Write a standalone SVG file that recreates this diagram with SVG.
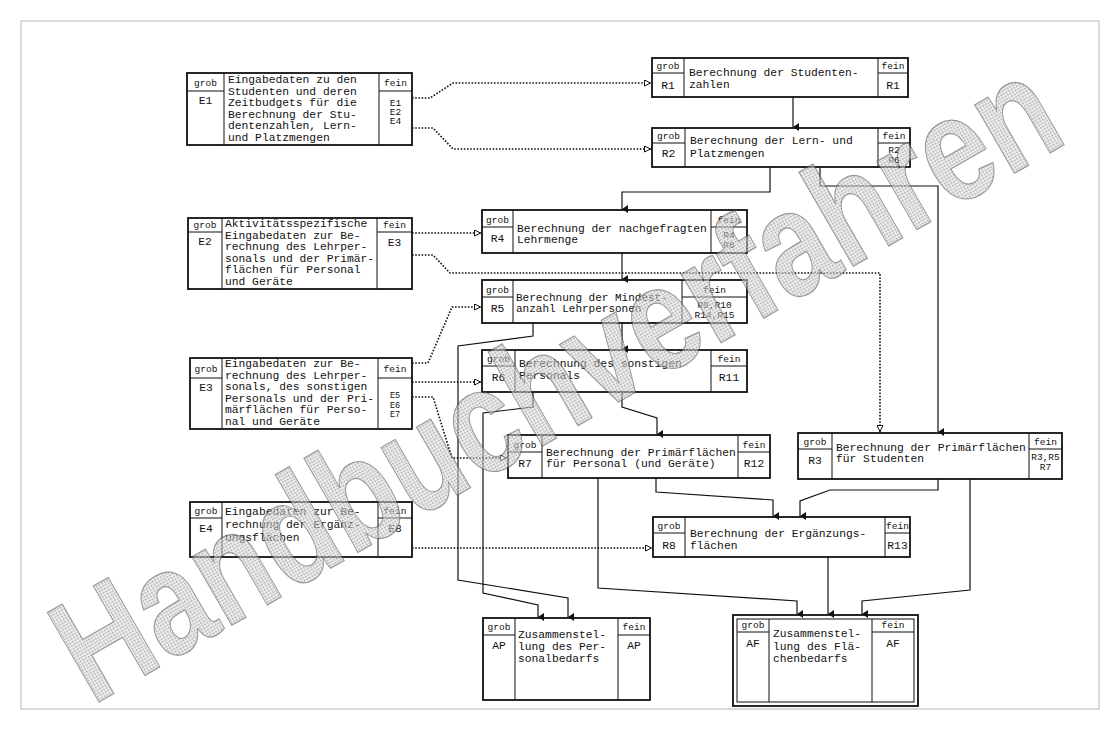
<svg xmlns="http://www.w3.org/2000/svg" width="1120" height="729" viewBox="0 0 1120 729">
<style>
.bx{fill:none;stroke:#111;stroke-width:1.8}
.ln{stroke:#111;stroke-width:1}
.t{font-family:"Liberation Mono","DejaVu Sans Mono",monospace;font-size:11.3px;fill:#111}
.s{font-size:9.5px}
.xs{font-size:8.5px}
.m{text-anchor:middle}
.c{stroke:#111;stroke-width:1.2;fill:none;marker-end:url(#sa)}
.d{stroke:#111;stroke-width:1.6;fill:none;stroke-dasharray:1.6 1.6;marker-end:url(#oa)}
</style>
<defs>
<marker id="sa" viewBox="0 0 8 6" refX="4" refY="6" markerWidth="8" markerHeight="6" markerUnits="userSpaceOnUse" orient="auto-start-reverse">
<path d="M0,0 L8,0 L4,6 z" fill="#111"/>
</marker>
<marker id="oa" viewBox="0 0 7 7" refX="7" refY="3.5" markerWidth="7" markerHeight="7" markerUnits="userSpaceOnUse" orient="auto">
<path d="M0.5,0.5 L6.5,3.5 L0.5,6.5 z" fill="#fff" stroke="#111" stroke-width="1"/>
</marker>
<pattern id="ht" width="3" height="3" patternUnits="userSpaceOnUse">
<rect width="3" height="3" fill="#e4e4e4"/><rect width="1.5" height="1.5" fill="#6a6a6a"/>
</pattern>
</defs>
<rect x="0" y="0" width="1120" height="729" fill="#fff"/>
<rect x="21" y="21" width="1078" height="688" fill="none" stroke="#b5b5b5" stroke-width="1"/>

<g id="connectors">
<path class="c" d="M793,97 V127"/>
<path class="c" d="M770,167 V192 H622 V209"/>
<path class="c" d="M820,167 V186 H938 V432"/>
<path class="c" d="M622,253 V279"/>
<path class="c" d="M622,323 V349"/>
<path class="c" d="M533,323 V336 L458,346 V580 L568,598 V617"/>
<path class="c" d="M533,392 V407 L483,413 V593 L538,605 V617"/>
<path class="c" d="M622,392 V407 L657,418 V434"/>
<path class="c" d="M656,478 V492 L773,500 V516"/>
<path class="c" d="M598,478 V588 L797,601 V614"/>
<path class="c" d="M938,479 V490 H830 L800,501 V516"/>
<path class="c" d="M970,479 V590 L862,601 V614"/>
<path class="c" d="M828,557 V614"/>
<path class="d" d="M412,98 H430 L453,83 H651"/>
<path class="d" d="M412,128 H433 L453,149 H651"/>
<path class="d" d="M412,233 H481"/>
<path class="d" d="M412,255 H433 L450,273 H880 V432"/>
<path class="d" d="M412,363 H428 L452,307 H481"/>
<path class="d" d="M412,382 H481"/>
<path class="d" d="M412,397 H433 L452,458 H507"/>
<path class="d" d="M412,548 H652"/>
</g>

<g id="E1">
<rect class="bx" x="187" y="73" width="225" height="72"/>
<line class="ln" x1="224" y1="73" x2="224" y2="145"/><line class="ln" x1="379" y1="73" x2="379" y2="145"/>
<line class="ln" x1="187" y1="91" x2="224" y2="91"/><line class="ln" x1="379" y1="91" x2="412" y2="91"/>
<text class="t s m" x="205.5" y="86">grob</text><text class="t m" x="205.5" y="104">E1</text>
<text class="t s m" x="395.5" y="86">fein</text>
<text class="t s m" x="395.5" y="106">E1</text><text class="t s m" x="395.5" y="115">E2</text><text class="t s m" x="395.5" y="124">E4</text>
<text class="t" x="228" y="83">Eingabedaten zu den</text>
<text class="t" x="228" y="95">Studenten und deren</text>
<text class="t" x="228" y="106">Zeitbudgets für die</text>
<text class="t" x="228" y="118">Berechnung der Stu-</text>
<text class="t" x="228" y="129">dentenzahlen, Lern-</text>
<text class="t" x="228" y="141">und Platzmengen</text>
</g>

<g id="E2">
<rect class="bx" x="188" y="218" width="224" height="71"/>
<line class="ln" x1="222" y1="218" x2="222" y2="289"/><line class="ln" x1="377" y1="218" x2="377" y2="289"/>
<line class="ln" x1="188" y1="232" x2="222" y2="232"/><line class="ln" x1="377" y1="232" x2="412" y2="232"/>
<text class="t s m" x="205" y="228">grob</text><text class="t m" x="205" y="245">E2</text>
<text class="t s m" x="394.5" y="228">fein</text><text class="t m" x="394.5" y="246">E3</text>
<text class="t" x="225" y="227">Aktivitätsspezifische</text>
<text class="t" x="225" y="238.5">Eingabedaten zur Be-</text>
<text class="t" x="225" y="250">rechnung des Lehrper-</text>
<text class="t" x="225" y="261.5">sonals und der Primär-</text>
<text class="t" x="225" y="273">flächen für Personal</text>
<text class="t" x="225" y="284.5">und Geräte</text>
</g>

<g id="E3">
<rect class="bx" x="190" y="358" width="222" height="71"/>
<line class="ln" x1="222" y1="358" x2="222" y2="429"/><line class="ln" x1="378" y1="358" x2="378" y2="429"/>
<line class="ln" x1="190" y1="378" x2="222" y2="378"/><line class="ln" x1="378" y1="378" x2="412" y2="378"/>
<text class="t s m" x="206" y="372">grob</text><text class="t m" x="206" y="391">E3</text>
<text class="t s m" x="395" y="372">fein</text>
<text class="t xs m" x="395" y="398">E5</text><text class="t xs m" x="395" y="407.5">E6</text><text class="t xs m" x="395" y="417">E7</text>
<text class="t" x="225" y="367">Eingabedaten zur Be-</text>
<text class="t" x="225" y="378.5">rechnung des Lehrper-</text>
<text class="t" x="225" y="390">sonals, des sonstigen</text>
<text class="t" x="225" y="401.5">Personals und der Pri-</text>
<text class="t" x="225" y="413">märflächen für Perso-</text>
<text class="t" x="225" y="424.5">nal und Geräte</text>
</g>

<g id="E4">
<rect class="bx" x="190" y="502" width="222" height="55"/>
<line class="ln" x1="222" y1="502" x2="222" y2="557"/><line class="ln" x1="378" y1="502" x2="378" y2="557"/>
<line class="ln" x1="190" y1="518" x2="222" y2="518"/><line class="ln" x1="378" y1="518" x2="412" y2="518"/>
<text class="t s m" x="206" y="514">grob</text><text class="t m" x="206" y="532">E4</text>
<text class="t s m" x="395" y="514">fein</text><text class="t m" x="395" y="532">E8</text>
<text class="t" x="225" y="515">Eingabedaten zur Be-</text>
<text class="t" x="225" y="528">rechnung der Ergänz-</text>
<text class="t" x="225" y="541">ungsflächen</text>
</g>

<g id="R1">
<rect class="bx" x="652" y="58" width="256" height="39"/>
<line class="ln" x1="684" y1="58" x2="684" y2="97"/><line class="ln" x1="878" y1="58" x2="878" y2="97"/>
<line class="ln" x1="652" y1="73" x2="684" y2="73"/><line class="ln" x1="878" y1="73" x2="908" y2="73"/>
<text class="t s m" x="668" y="69">grob</text><text class="t m" x="668" y="89">R1</text>
<text class="t s m" x="893" y="69">fein</text><text class="t m" x="893" y="89">R1</text>
<text class="t" x="689" y="76">Berechnung der Studenten-</text>
<text class="t" x="689" y="88">zahlen</text>
</g>

<g id="R2">
<rect class="bx" x="652" y="128" width="258" height="39"/>
<line class="ln" x1="685" y1="128" x2="685" y2="167"/><line class="ln" x1="878" y1="128" x2="878" y2="167"/>
<line class="ln" x1="652" y1="143" x2="685" y2="143"/><line class="ln" x1="878" y1="143" x2="910" y2="143"/>
<text class="t s m" x="668.5" y="139">grob</text><text class="t m" x="668.5" y="157">R2</text>
<text class="t s m" x="894" y="139">fein</text>
<text class="t s m" x="894" y="153">R2</text><text class="t s m" x="894" y="163">R6</text>
<text class="t" x="690" y="144">Berechnung der Lern- und</text>
<text class="t" x="690" y="157">Platzmengen</text>
</g>

<g id="R4">
<rect class="bx" x="482" y="210" width="265" height="43"/>
<line class="ln" x1="513" y1="210" x2="513" y2="253"/><line class="ln" x1="711" y1="210" x2="711" y2="253"/>
<line class="ln" x1="482" y1="227" x2="513" y2="227"/><line class="ln" x1="711" y1="227" x2="747" y2="227"/>
<text class="t s m" x="497.5" y="223">grob</text><text class="t m" x="497.5" y="242">R4</text>
<text class="t s m" x="729" y="223">fein</text>
<text class="t s m" x="729" y="238">R4</text><text class="t s m" x="729" y="248">R8</text>
<text class="t" x="517" y="232">Berechnung der nachgefragten</text>
<text class="t" x="517" y="243">Lehrmenge</text>
</g>

<g id="R5">
<rect class="bx" x="482" y="280" width="265" height="43"/>
<line class="ln" x1="513" y1="280" x2="513" y2="323"/><line class="ln" x1="682" y1="280" x2="682" y2="323"/>
<line class="ln" x1="482" y1="297" x2="513" y2="297"/><line class="ln" x1="682" y1="297" x2="747" y2="297"/>
<text class="t s m" x="497.5" y="293">grob</text><text class="t m" x="497.5" y="312">R5</text>
<text class="t s m" x="714.5" y="293">fein</text>
<text class="t s m" x="714.5" y="308">R9,R10</text><text class="t s m" x="714.5" y="318">R14,R15</text>
<text class="t" x="516" y="301" style="font-size:11px">Berechnung der Mindest-</text>
<text class="t" x="516" y="312" style="font-size:11px">anzahl Lehrpersonen</text>
</g>

<g id="R6">
<rect class="bx" x="482" y="350" width="265" height="42"/>
<line class="ln" x1="515" y1="350" x2="515" y2="392"/><line class="ln" x1="711" y1="350" x2="711" y2="392"/>
<line class="ln" x1="482" y1="366" x2="515" y2="366"/><line class="ln" x1="711" y1="366" x2="747" y2="366"/>
<text class="t s m" x="498.5" y="362">grob</text><text class="t m" x="498.5" y="381">R6</text>
<text class="t s m" x="729" y="362">fein</text><text class="t m" x="729" y="381">R11</text>
<text class="t" x="519" y="367">Berechnung des sonstigen</text>
<text class="t" x="519" y="379">Personals</text>
</g>

<g id="R7">
<rect class="bx" x="508" y="435" width="262" height="43"/>
<line class="ln" x1="542" y1="435" x2="542" y2="478"/><line class="ln" x1="738" y1="435" x2="738" y2="478"/>
<line class="ln" x1="508" y1="452" x2="542" y2="452"/><line class="ln" x1="738" y1="452" x2="770" y2="452"/>
<text class="t s m" x="525" y="448">grob</text><text class="t m" x="525" y="467">R7</text>
<text class="t s m" x="754" y="448">fein</text><text class="t m" x="754" y="467">R12</text>
<text class="t" x="546" y="456">Berechnung der Primärflächen</text>
<text class="t" x="546" y="467">für Personal (und Geräte)</text>
</g>

<g id="R3">
<rect class="bx" x="798" y="433" width="264" height="46"/>
<line class="ln" x1="832" y1="433" x2="832" y2="479"/><line class="ln" x1="1029" y1="433" x2="1029" y2="479"/>
<line class="ln" x1="798" y1="449" x2="832" y2="449"/><line class="ln" x1="1029" y1="449" x2="1062" y2="449"/>
<text class="t s m" x="815" y="445">grob</text><text class="t m" x="815" y="464">R3</text>
<text class="t s m" x="1045.5" y="445">fein</text>
<text class="t s m" x="1045.5" y="460">R3,R5</text><text class="t s m" x="1045.5" y="470">R7</text>
<text class="t" x="836" y="451">Berechnung der Primärflächen</text>
<text class="t" x="836" y="462">für Studenten</text>
</g>

<g id="R8">
<rect class="bx" x="653" y="517" width="257" height="40"/>
<line class="ln" x1="685" y1="517" x2="685" y2="557"/><line class="ln" x1="885" y1="517" x2="885" y2="557"/>
<line class="ln" x1="653" y1="533" x2="685" y2="533"/><line class="ln" x1="885" y1="533" x2="910" y2="533"/>
<text class="t s m" x="669" y="529">grob</text><text class="t m" x="669" y="549">R8</text>
<text class="t s m" x="897.5" y="529">fein</text><text class="t m" x="897.5" y="549">R13</text>
<text class="t" x="690" y="537">Berechnung der Ergänzungs-</text>
<text class="t" x="690" y="549">flächen</text>
</g>

<g id="AP">
<rect class="bx" x="483" y="618" width="167" height="82"/>
<line class="ln" x1="515" y1="618" x2="515" y2="700"/><line class="ln" x1="618" y1="618" x2="618" y2="700"/>
<line class="ln" x1="483" y1="635" x2="515" y2="635"/><line class="ln" x1="618" y1="635" x2="650" y2="635"/>
<text class="t s m" x="499" y="630">grob</text><text class="t m" x="499" y="649">AP</text>
<text class="t s m" x="634" y="630">fein</text><text class="t m" x="634" y="649">AP</text>
<text class="t" x="518" y="638">Zusammenstel-</text>
<text class="t" x="518" y="650">lung des Per-</text>
<text class="t" x="518" y="662">sonalbedarfs</text>
</g>

<g id="AF">
<rect class="bx" x="733" y="615" width="185" height="91"/>
<rect x="737" y="619" width="177" height="83" fill="none" stroke="#111" stroke-width="1"/>
<line class="ln" x1="769" y1="619" x2="769" y2="702"/><line class="ln" x1="872" y1="619" x2="872" y2="702"/>
<line class="ln" x1="737" y1="632" x2="769" y2="632"/><line class="ln" x1="872" y1="632" x2="914" y2="632"/>
<text class="t s m" x="753" y="628">grob</text><text class="t m" x="753" y="647">AF</text>
<text class="t s m" x="893" y="628">fein</text><text class="t m" x="893" y="647">AF</text>
<text class="t" x="773" y="637">Zusammenstel-</text>
<text class="t" x="773" y="650">lung des Flä-</text>
<text class="t" x="773" y="662">chenbedarfs</text>
</g>

<g id="watermark" opacity="0.6">
<text x="0" y="0" transform="translate(92,706) rotate(-30)" font-family="Liberation Sans, Arial, sans-serif" font-weight="bold" font-size="150" textLength="1130" lengthAdjust="spacingAndGlyphs" fill="url(#ht)" stroke="#555" stroke-width="1.2">Handbuchverfahren</text>
</g>
</svg>
